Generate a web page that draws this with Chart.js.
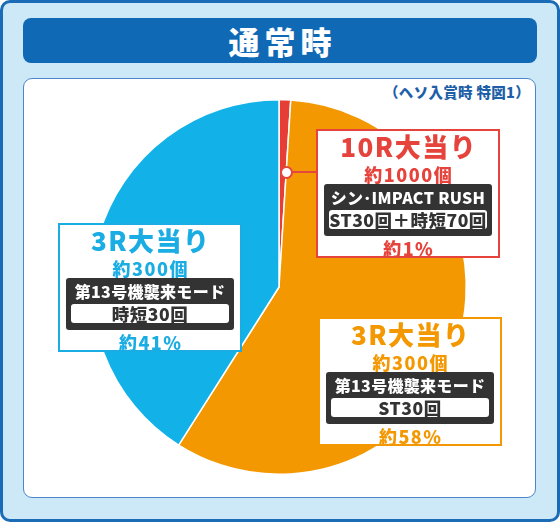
<!DOCTYPE html>
<html>
<head>
<meta charset="utf-8">
<script src="https://cdn.jsdelivr.net/npm/chart.js@4"></script>
<style>
  html, body { margin: 0; padding: 0; background: #fff; }
  body { width: 560px; height: 523px; position: relative; overflow: hidden;
         font-family: "Noto Sans CJK JP", "Noto Sans", sans-serif; font-weight: 900; }
  .frame { position: absolute; left: 0; top: 0; width: 560px; height: 522px; box-sizing: border-box;
           border: 3px solid #1a6cb6; border-radius: 10px; background: #cde9f8; }
  .titlebar { position: absolute; left: 23px; top: 18px; width: 514px; height: 45px;
              background: #0f69b4; border-radius: 8px; color: #fff; text-align: center;
              font-size: 31px; line-height: 45px; letter-spacing: 5px; text-indent: 5px; }
  .panel { position: absolute; left: 23px; top: 78px; width: 513px; height: 420px; box-sizing: border-box;
           background: #fff; border: 1px solid #4f86c8; border-radius: 9px; }
  .note { position: absolute; right: 30px; top: 83px; color: #1f5fa8; font-size: 14.5px; line-height: 18px;
          letter-spacing: 0.3px; }
  #pie { position: absolute; left: 0; top: 0; }
  .box { position: absolute; width: 184px; height: 129px; box-sizing: border-box;
         background: #fff; border: 2px solid; }
  .box .ln { position: absolute; left: 0; right: 0; text-align: center; white-space: nowrap; }
  .box .big { font-size: 26px; line-height: 28px; letter-spacing: 1.5px; text-indent: 1.5px; }
  .box .mid { font-size: 18px; line-height: 20px; letter-spacing: 1.5px; text-indent: 1.5px; }
  .box .dark { position: absolute; left: 6px; top: 53px; width: 168px; height: 52px;
               background: #333; border-radius: 3px; }
  .box .mode { position: absolute; left: 0; right: 0; top: 3px; color: #fff; text-align: center;
               font-size: 16px; line-height: 20px; white-space: nowrap; letter-spacing: 0.3px; }
  .box .wbox { position: absolute; left: 5px; top: 26px; width: 158px; height: 19px; background: #fff;
               border-radius: 3px; color: #333; text-align: center; font-size: 17.5px; line-height: 19px;
               white-space: nowrap; letter-spacing: 0.5px; }
  .dot { position: absolute; width: 9px; height: 9px; border: 2px solid #e5463c; border-radius: 50%; background: #fff; }
  .wire { position: absolute; height: 2px; background: #e5463c; }
</style>
</head>
<body>
<div class="frame"></div>
<div class="titlebar">通常時</div>
<div class="panel"></div>
<div class="note">（ヘソ入賞時 特図1）</div>
<canvas id="pie" width="560" height="523"></canvas>
<div id="labels"></div>

<script>
// === Chart values (order = clockwise from 12 o'clock) ===
const categories = ["10R大当り", "3R大当り", "3R大当り"];
const shares = [1, 58, 41];                      // percent
const payouts = ["約1000個", "約300個", "約300個"];
const modes = ["シン･IMPACT RUSH", "第13号機襲来モード", "第13号機襲来モード"];
const details = ["ST30回＋時短70回", "ST30回", "時短30回"];
const sliceColors = ["#e63d35", "#f39800", "#12b1e8"];
const textColors = ["#e5433b", "#f39800", "#1aade4"];

// === Where each label box sits ===
const boxPos = [
  { left: 316, top: 129 },
  { left: 318, top: 317 },
  { left: 58, top: 223 }
];

// === Build label boxes ===
const labelsEl = document.getElementById("labels");
categories.forEach((cat, i) => {
  const box = document.createElement("div");
  box.className = "box";
  box.style.left = boxPos[i].left + "px";
  box.style.top = boxPos[i].top + "px";
  box.style.borderColor = textColors[i];
  box.style.color = textColors[i];
  box.innerHTML =
    '<div class="ln big" style="top:1px">' + cat + '</div>' +
    '<div class="ln mid" style="top:33px">' + payouts[i] + '</div>' +
    '<div class="dark"><div class="mode">' + modes[i] + '</div>' +
    '<div class="wbox">' + details[i] + '</div></div>' +
    '<div class="ln mid" style="top:107px">約' + shares[i] + '%</div>';
  labelsEl.appendChild(box);
});

// connector from the 10R box to its slice
const wire = document.createElement("div");
wire.className = "wire";
wire.style.left = "288px"; wire.style.top = "171px"; wire.style.width = "30px";
labelsEl.appendChild(wire);
const dot = document.createElement("div");
dot.className = "dot";
dot.style.left = "280px"; dot.style.top = "166px";
labelsEl.appendChild(dot);

// === Pie ===
const ctx = document.getElementById("pie").getContext("2d");
new Chart(ctx, {
  type: "pie",
  data: {
    labels: categories,
    datasets: [{
      data: shares,
      backgroundColor: sliceColors,
      borderColor: "#ffffff",
      borderWidth: 1.5
    }]
  },
  options: {
    responsive: false,
    animation: false,
    layout: { padding: { left: 91, right: 93, top: 99, bottom: 48 } },
    plugins: {
      legend: { display: false },
      tooltip: { enabled: false }
    }
  }
});
</script>
</body>
</html>
